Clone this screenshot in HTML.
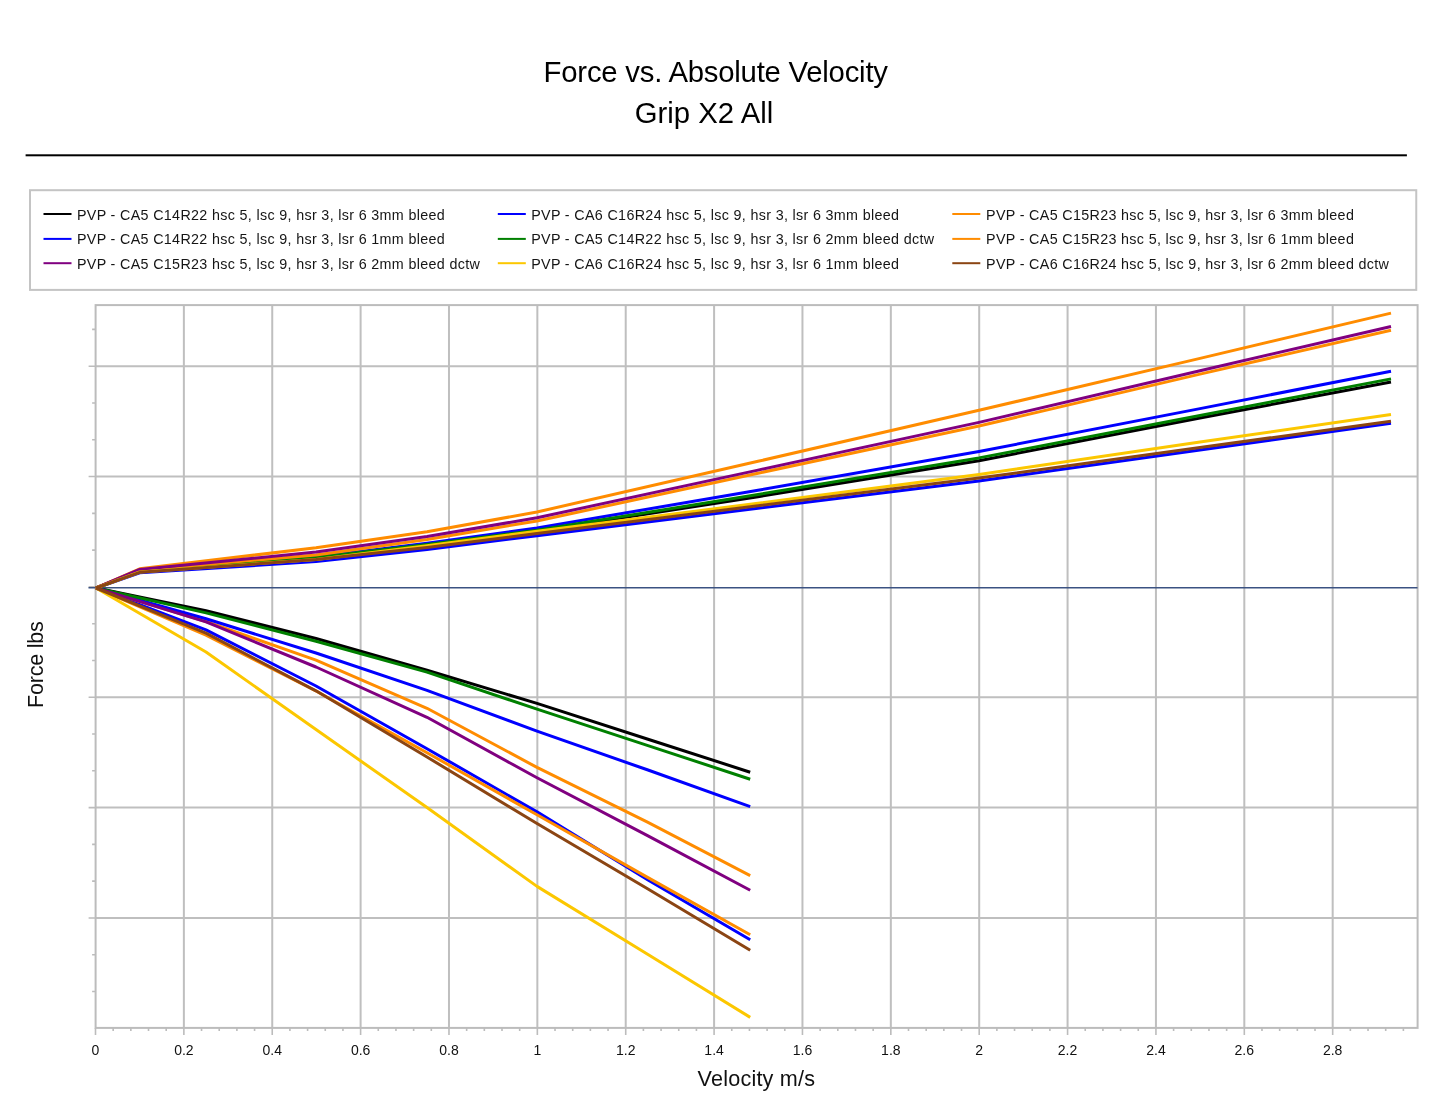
<!DOCTYPE html><html><head><meta charset="utf-8"><style>html,body{margin:0;padding:0;background:#fff;overflow:hidden;width:1445px;height:1117px;}svg{display:block;will-change:transform;}text{font-family:"Liberation Sans",sans-serif;}</style></head><body>
<svg width="1445" height="1117" viewBox="0 0 1445 1117">
<rect x="0" y="0" width="1445" height="1117" fill="#ffffff"/>
<text x="543.6" y="81.5" font-size="29.3" letter-spacing="-0.22" fill="#000">Force vs. Absolute Velocity</text>
<text x="634.8" y="122.7" font-size="29.3" fill="#000">Grip X2 All</text>
<rect x="25.6" y="154.3" width="1381.3" height="2" fill="#000"/>
<rect x="30" y="190.2" width="1386.25" height="99.7" fill="none" stroke="#c4c4c4" stroke-width="2"/>
<rect x="43.5" y="213.0" width="28" height="2" fill="#000000"/>
<text x="76.9" y="220.0" font-size="14.3" letter-spacing="0.34" fill="#151515">PVP - CA5 C14R22 hsc 5, lsc 9, hsr 3, lsr 6 3mm bleed</text>
<rect x="43.5" y="237.9" width="28" height="2" fill="#0000ff"/>
<text x="76.9" y="244.3" font-size="14.3" letter-spacing="0.34" fill="#151515">PVP - CA5 C14R22 hsc 5, lsc 9, hsr 3, lsr 6 1mm bleed</text>
<rect x="43.5" y="262.2" width="28" height="2" fill="#800080"/>
<text x="76.9" y="269.2" font-size="14.3" letter-spacing="0.34" fill="#151515">PVP - CA5 C15R23 hsc 5, lsc 9, hsr 3, lsr 6 2mm bleed dctw</text>
<rect x="497.8" y="213.0" width="28" height="2" fill="#0000ff"/>
<text x="531.2" y="220.0" font-size="14.3" letter-spacing="0.34" fill="#151515">PVP - CA6 C16R24 hsc 5, lsc 9, hsr 3, lsr 6 3mm bleed</text>
<rect x="497.8" y="237.9" width="28" height="2" fill="#008000"/>
<text x="531.2" y="244.3" font-size="14.3" letter-spacing="0.34" fill="#151515">PVP - CA5 C14R22 hsc 5, lsc 9, hsr 3, lsr 6 2mm bleed dctw</text>
<rect x="497.8" y="262.2" width="28" height="2" fill="#fcc700"/>
<text x="531.2" y="269.2" font-size="14.3" letter-spacing="0.34" fill="#151515">PVP - CA6 C16R24 hsc 5, lsc 9, hsr 3, lsr 6 1mm bleed</text>
<rect x="952.3" y="213.0" width="28" height="2" fill="#ff8c00"/>
<text x="986.0" y="220.0" font-size="14.3" letter-spacing="0.34" fill="#151515">PVP - CA5 C15R23 hsc 5, lsc 9, hsr 3, lsr 6 3mm bleed</text>
<rect x="952.3" y="237.9" width="28" height="2" fill="#ff8c00"/>
<text x="986.0" y="244.3" font-size="14.3" letter-spacing="0.34" fill="#151515">PVP - CA5 C15R23 hsc 5, lsc 9, hsr 3, lsr 6 1mm bleed</text>
<rect x="952.3" y="262.2" width="28" height="2" fill="#8b4513"/>
<text x="986.0" y="269.2" font-size="14.3" letter-spacing="0.34" fill="#151515">PVP - CA6 C16R24 hsc 5, lsc 9, hsr 3, lsr 6 2mm bleed dctw</text>
<path d="M183.87 305.1V1027.9M272.24 305.1V1027.9M360.61 305.1V1027.9M448.98 305.1V1027.9M537.35 305.1V1027.9M625.72 305.1V1027.9M714.09 305.1V1027.9M802.46 305.1V1027.9M890.83 305.1V1027.9M979.20 305.1V1027.9M1067.57 305.1V1027.9M1155.94 305.1V1027.9M1244.31 305.1V1027.9M1332.68 305.1V1027.9M95.6 366.20H1417.6M95.6 476.55H1417.6M95.6 697.25H1417.6M95.6 807.60H1417.6M95.6 917.95H1417.6" stroke="#bfbfbf" stroke-width="2" fill="none"/>
<rect x="95.6" y="305.1" width="1322.0" height="722.8000000000001" fill="none" stroke="#bcbcbc" stroke-width="2"/>
<path d="M95.50 1027.9V1034.9M113.17 1027.9V1030.9M130.85 1027.9V1030.9M148.52 1027.9V1030.9M166.20 1027.9V1030.9M183.87 1027.9V1034.9M201.54 1027.9V1030.9M219.22 1027.9V1030.9M236.89 1027.9V1030.9M254.57 1027.9V1030.9M272.24 1027.9V1034.9M289.91 1027.9V1030.9M307.59 1027.9V1030.9M325.26 1027.9V1030.9M342.94 1027.9V1030.9M360.61 1027.9V1034.9M378.28 1027.9V1030.9M395.96 1027.9V1030.9M413.63 1027.9V1030.9M431.31 1027.9V1030.9M448.98 1027.9V1034.9M466.65 1027.9V1030.9M484.33 1027.9V1030.9M502.00 1027.9V1030.9M519.68 1027.9V1030.9M537.35 1027.9V1034.9M555.02 1027.9V1030.9M572.70 1027.9V1030.9M590.37 1027.9V1030.9M608.05 1027.9V1030.9M625.72 1027.9V1034.9M643.39 1027.9V1030.9M661.07 1027.9V1030.9M678.74 1027.9V1030.9M696.42 1027.9V1030.9M714.09 1027.9V1034.9M731.76 1027.9V1030.9M749.44 1027.9V1030.9M767.11 1027.9V1030.9M784.79 1027.9V1030.9M802.46 1027.9V1034.9M820.13 1027.9V1030.9M837.81 1027.9V1030.9M855.48 1027.9V1030.9M873.16 1027.9V1030.9M890.83 1027.9V1034.9M908.50 1027.9V1030.9M926.18 1027.9V1030.9M943.85 1027.9V1030.9M961.53 1027.9V1030.9M979.20 1027.9V1034.9M996.87 1027.9V1030.9M1014.55 1027.9V1030.9M1032.22 1027.9V1030.9M1049.90 1027.9V1030.9M1067.57 1027.9V1034.9M1085.24 1027.9V1030.9M1102.92 1027.9V1030.9M1120.59 1027.9V1030.9M1138.27 1027.9V1030.9M1155.94 1027.9V1034.9M1173.61 1027.9V1030.9M1191.29 1027.9V1030.9M1208.96 1027.9V1030.9M1226.64 1027.9V1030.9M1244.31 1027.9V1034.9M1261.98 1027.9V1030.9M1279.66 1027.9V1030.9M1297.33 1027.9V1030.9M1315.01 1027.9V1030.9M1332.68 1027.9V1034.9M1350.35 1027.9V1030.9M1368.03 1027.9V1030.9M1385.70 1027.9V1030.9M1403.38 1027.9V1030.9M88.6 366.20H95.6M88.6 476.55H95.6M88.6 586.90H95.6M88.6 697.25H95.6M88.6 807.60H95.6M88.6 917.95H95.6M92.1 329.42H95.6M92.1 402.98H95.6M92.1 439.77H95.6M92.1 513.33H95.6M92.1 550.12H95.6M92.1 623.68H95.6M92.1 660.47H95.6M92.1 734.03H95.6M92.1 770.82H95.6M92.1 844.38H95.6M92.1 881.17H95.6M92.1 954.73H95.6M92.1 991.52H95.6" stroke="#bcbcbc" stroke-width="1.6" fill="none"/>
<text x="95.50" y="1054.6" font-size="14" fill="#111" text-anchor="middle">0</text>
<text x="183.87" y="1054.6" font-size="14" fill="#111" text-anchor="middle">0.2</text>
<text x="272.24" y="1054.6" font-size="14" fill="#111" text-anchor="middle">0.4</text>
<text x="360.61" y="1054.6" font-size="14" fill="#111" text-anchor="middle">0.6</text>
<text x="448.98" y="1054.6" font-size="14" fill="#111" text-anchor="middle">0.8</text>
<text x="537.35" y="1054.6" font-size="14" fill="#111" text-anchor="middle">1</text>
<text x="625.72" y="1054.6" font-size="14" fill="#111" text-anchor="middle">1.2</text>
<text x="714.09" y="1054.6" font-size="14" fill="#111" text-anchor="middle">1.4</text>
<text x="802.46" y="1054.6" font-size="14" fill="#111" text-anchor="middle">1.6</text>
<text x="890.83" y="1054.6" font-size="14" fill="#111" text-anchor="middle">1.8</text>
<text x="979.20" y="1054.6" font-size="14" fill="#111" text-anchor="middle">2</text>
<text x="1067.57" y="1054.6" font-size="14" fill="#111" text-anchor="middle">2.2</text>
<text x="1155.94" y="1054.6" font-size="14" fill="#111" text-anchor="middle">2.4</text>
<text x="1244.31" y="1054.6" font-size="14" fill="#111" text-anchor="middle">2.6</text>
<text x="1332.68" y="1054.6" font-size="14" fill="#111" text-anchor="middle">2.8</text>
<text x="697.6" y="1086" font-size="21.6" letter-spacing="0.2" fill="#111">Velocity m/s</text>
<text transform="translate(42.6 708) rotate(-90)" x="0" y="0" font-size="21.6" letter-spacing="-0.25" fill="#111">Force lbs</text>
<path d="M88.5 587.7H1417.5" stroke="#3b5282" stroke-width="1.6" fill="none"/>
<path d="M96.0 588.0 L139.7 571.5 L316.0 557.8 L427.0 545.0 L537.0 531.0 L758.0 496.7 L979.0 460.7 L1200.0 418.0 L1391.0 382.0" stroke="#000000" stroke-width="3" fill="none" stroke-linejoin="round" stroke-linecap="butt"/>
<path d="M96.0 588.0 L206.0 610.7 L316.0 638.5 L427.0 670.3 L537.0 703.4 L648.0 739.2 L750.2 772.2" stroke="#000000" stroke-width="3" fill="none" stroke-linejoin="round" stroke-linecap="butt"/>
<path d="M96.0 588.0 L139.7 572.8 L316.0 561.6 L427.0 549.4 L537.0 535.7 L758.0 508.3 L979.0 480.9 L1200.0 450.0 L1391.0 423.3" stroke="#0000ff" stroke-width="3" fill="none" stroke-linejoin="round" stroke-linecap="butt"/>
<path d="M96.0 588.0 L206.0 629.8 L316.0 686.0 L427.0 748.7 L537.0 811.9 L648.0 880.0 L750.2 939.8" stroke="#0000ff" stroke-width="3" fill="none" stroke-linejoin="round" stroke-linecap="butt"/>
<path d="M96.0 588.0 L139.7 568.8 L316.0 547.7 L427.0 531.8 L537.0 512.0 L758.0 461.3 L979.0 410.3 L1200.0 358.4 L1391.0 313.1" stroke="#ff8c00" stroke-width="3" fill="none" stroke-linejoin="round" stroke-linecap="butt"/>
<path d="M96.0 588.0 L206.0 621.5 L316.0 660.2 L427.0 708.3 L537.0 767.4 L648.0 822.4 L750.2 875.7" stroke="#ff8c00" stroke-width="3" fill="none" stroke-linejoin="round" stroke-linecap="butt"/>
<path d="M96.0 588.0 L139.7 571.0 L316.0 557.1 L427.0 543.3 L537.0 528.1 L758.0 490.2 L979.0 451.5 L1200.0 408.6 L1391.0 371.2" stroke="#0000ff" stroke-width="3" fill="none" stroke-linejoin="round" stroke-linecap="butt"/>
<path d="M96.0 588.0 L206.0 618.8 L316.0 653.0 L427.0 690.4 L537.0 731.2 L648.0 770.0 L750.2 806.7" stroke="#0000ff" stroke-width="3" fill="none" stroke-linejoin="round" stroke-linecap="butt"/>
<path d="M96.0 588.0 L139.7 571.5 L316.0 557.5 L427.0 544.5 L537.0 530.3 L758.0 494.5 L979.0 457.9 L1200.0 415.5 L1391.0 378.9" stroke="#008000" stroke-width="3" fill="none" stroke-linejoin="round" stroke-linecap="butt"/>
<path d="M96.0 588.0 L206.0 612.9 L316.0 641.3 L427.0 672.1 L537.0 709.2 L648.0 745.6 L750.2 779.2" stroke="#008000" stroke-width="3" fill="none" stroke-linejoin="round" stroke-linecap="butt"/>
<path d="M96.0 588.0 L139.7 570.0 L316.0 554.9 L427.0 539.4 L537.0 521.0 L758.0 473.2 L979.0 426.0 L1200.0 374.1 L1391.0 330.3" stroke="#ff8c00" stroke-width="3" fill="none" stroke-linejoin="round" stroke-linecap="butt"/>
<path d="M96.0 588.0 L206.0 635.1 L316.0 691.0 L427.0 752.7 L537.0 814.8 L648.0 877.6 L750.2 934.7" stroke="#ff8c00" stroke-width="3" fill="none" stroke-linejoin="round" stroke-linecap="butt"/>
<path d="M96.0 588.0 L139.7 569.5 L316.0 552.0 L427.0 536.5 L537.0 517.8 L758.0 470.1 L979.0 422.4 L1200.0 370.7 L1391.0 326.5" stroke="#800080" stroke-width="3" fill="none" stroke-linejoin="round" stroke-linecap="butt"/>
<path d="M96.0 588.0 L206.0 621.9 L316.0 667.0 L427.0 717.3 L537.0 777.8 L648.0 835.8 L750.2 890.2" stroke="#800080" stroke-width="3" fill="none" stroke-linejoin="round" stroke-linecap="butt"/>
<path d="M96.0 588.0 L139.7 572.0 L316.0 559.4 L427.0 545.8 L537.0 531.2 L758.0 503.3 L979.0 474.4 L1200.0 442.1 L1391.0 414.6" stroke="#fcc700" stroke-width="3" fill="none" stroke-linejoin="round" stroke-linecap="butt"/>
<path d="M96.0 588.0 L206.0 652.0 L316.0 729.6 L427.0 807.5 L537.0 886.4 L648.0 954.5 L750.2 1017.4" stroke="#fcc700" stroke-width="3" fill="none" stroke-linejoin="round" stroke-linecap="butt"/>
<path d="M96.0 588.0 L139.7 572.3 L316.0 559.6 L427.0 547.6 L537.0 533.5 L758.0 505.8 L979.0 478.1 L1200.0 447.5 L1391.0 421.3" stroke="#8b4513" stroke-width="3" fill="none" stroke-linejoin="round" stroke-linecap="butt"/>
<path d="M96.0 588.0 L206.0 633.2 L316.0 690.8 L427.0 757.0 L537.0 823.5 L648.0 889.0 L750.2 950.2" stroke="#8b4513" stroke-width="3" fill="none" stroke-linejoin="round" stroke-linecap="butt"/>
</svg></body></html>
